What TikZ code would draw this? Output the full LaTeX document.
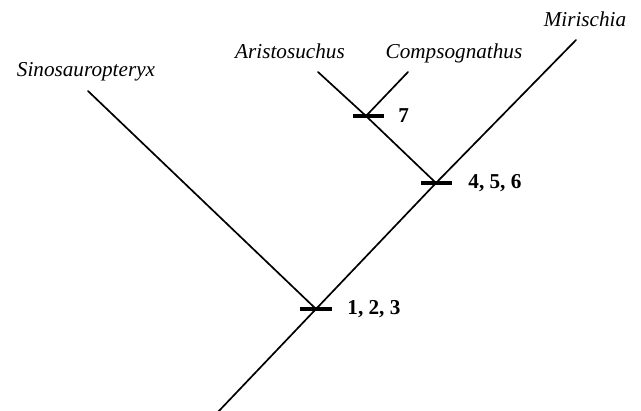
\documentclass[tikz,border=0pt]{standalone}
\usepackage{fontspec}
\setmainfont{Liberation Serif}
\usetikzlibrary{positioning}

\begin{document}
\begin{tikzpicture}[
  x=0.5pt,y=-0.5pt,
  taxon/.style={font=\fontsize{10.6}{12}\selectfont\itshape,inner sep=0pt,anchor=base},
  syn/.style={font=\fontsize{10.6}{12}\selectfont\bfseries,inner sep=0pt,anchor=west},
  branch/.style={line width=0.85pt,line cap=round},
  tick/.style={line width=1.6pt}
]
\useasboundingbox (0,0) rectangle (641,411);
\coordinate (root) at (217,413);
\coordinate (n123) at (316,309);
\coordinate (n456) at (436,183);
\coordinate (n7) at (366,116);
\coordinate (sino) at (88,91);
\coordinate (aris) at (318,72);
\coordinate (comp) at (408,72);
\coordinate (miri) at (576,40);
\node[taxon] (sinolab) at (86,77) {Sinosauropteryx};
\node[taxon] (arislab) at (290,59) {Aristosuchus};
\node[taxon] (complab) at (454,59) {Compsognathus};
\node[taxon] (mirilab) at (585,27) {Mirischia};
\draw[branch] (root) -- (n123);
\draw[branch] (n123) -- (n456);
\draw[branch] (n456) -- (miri);
\draw[branch] (n123) -- (sino);
\draw[branch] (n456) -- (n7);
\draw[branch] (n7) -- (aris);
\draw[branch] (n7) -- (comp);
\draw[tick] ([xshift=-8pt]n123) -- ([xshift=8pt]n123);
\draw[tick] ([xshift=-7.5pt]n456) -- ([xshift=8pt]n456);
\draw[tick] ([xshift=-6.5pt]n7) -- ([xshift=9pt]n7);
\node[syn,right=15.5pt of n123] (c123) {1, 2, 3};
\node[syn,right=16pt of n456] (c456) {4, 5, 6};
\node[syn,right=16pt of n7] (c7) {7};
\end{tikzpicture}
\end{document}
